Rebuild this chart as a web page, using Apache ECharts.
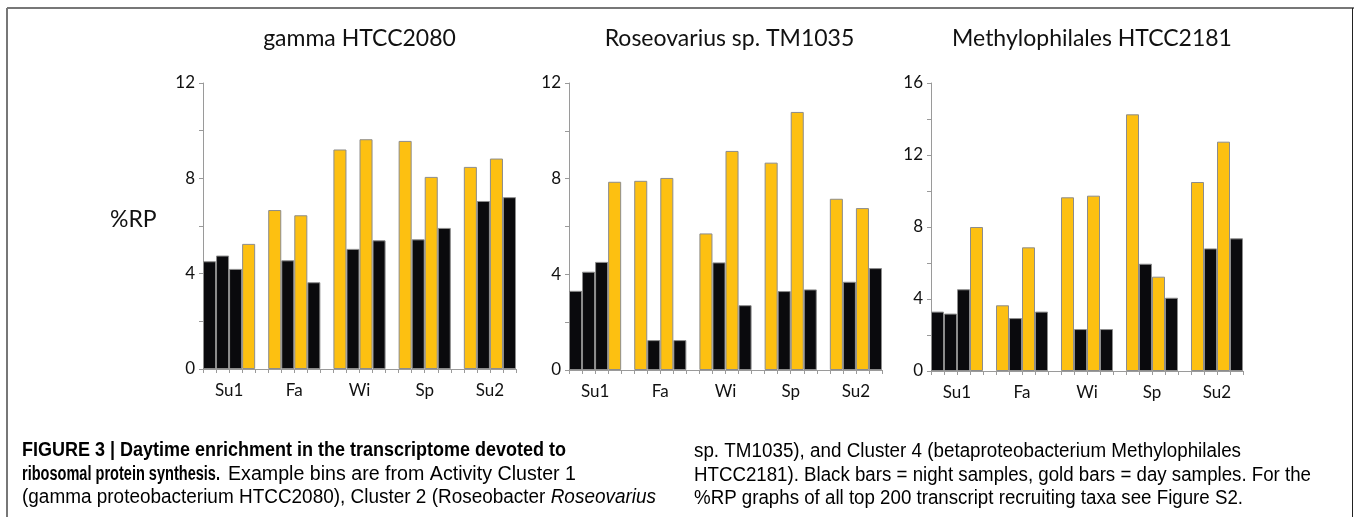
<!DOCTYPE html>
<html>
<head>
<meta charset="utf-8">
<script src="https://cdn.jsdelivr.net/npm/echarts@6/dist/echarts.min.js"></script>
<style>
html,body{margin:0;padding:0;background:#fff;}
#chart{width:1354px;height:517px;}
</style>
</head>
<body>
<div id="chart"></div>
<script>
// ---- data ----
const categories = ['Su1', 'Fa', 'Wi', 'Sp', 'Su2'];
// sample type per bar (N = night / black, D = day / gold), 4 bars per season
const sampleType = ['N','N','N','D', 'D','N','D','N', 'D','N','D','N', 'D','N','D','N', 'D','N','D','N'];
const panelTitles = ['gamma HTCC2080', 'Roseovarius sp. TM1035', 'Methylophilales HTCC2181'];
const gammaValues   = [4.52, 4.76, 4.20, 5.25,  6.67, 4.56, 6.45, 3.64,  9.21, 5.04, 9.64, 5.40,  9.57, 5.44, 8.06, 5.92,  8.48, 7.05, 8.83, 7.21];
const roseoValues   = [3.31, 4.11, 4.52, 7.87,  7.91, 1.25, 8.03, 1.25,  5.71, 4.50, 9.16, 2.71,  8.67, 3.30, 10.79, 3.37, 7.16, 3.69, 6.77, 4.26];
const methyloValues = [3.30, 3.19, 4.54, 8.00,  3.65, 2.94, 6.87, 3.30,  9.65, 2.33, 9.74, 2.33,  14.26, 5.96, 5.24, 4.07, 10.50, 6.81, 12.74, 7.37];
const yMaxes = [12, 12, 16];
const yTickStep = 2;
const yLabelStep = 4;
const yAxisName = '%RP';
// caption text runs: [style, text]
const captionText = [
  [['b', 'FIGURE 3 | Daytime enrichment in the transcriptome devoted to']],
  [['b', 'ribosomal protein synthesis.']],
  [['n', 'Example bins are from Activity Cluster 1']],
  [['n', '(gamma proteobacterium HTCC2080), Cluster 2 (Roseobacter '], ['i', 'Roseovarius']],
  [['n', 'sp. TM1035), and Cluster 4 (betaproteobacterium Methylophilales']],
  [['n', 'HTCC2181). Black bars = night samples, gold bars = day samples. For the']],
  [['n', '%RP graphs of all top 200 transcript recruiting taxa see Figure S2.']]
];
// caption layout: [x start, x end, y centre] per entry above
const captionBox = [
  [22, 566, 450], [22, 220, 474], [228, 576, 474], [22, 656, 497.5],
  [694, 1241, 451], [694, 1311, 475], [694, 1243, 498.5]
];

// ---- build ----
const panelValues = [gammaValues, roseoValues, methyloValues];
const GOLD = '#FDC011', BLACK = '#0a0a0d', EDGE = '#8c8c8c', AXIS = '#9a9a9a';
const FONT = 'Lato';
const grids = [
  {left: 203, top: 83, width: 313, height: 286},
  {left: 569, top: 83, width: 313, height: 287},
  {left: 931, top: 83, width: 312, height: 288}
];
const titleShift = [-5, -1, 0];

function slots(values, wanted) {
  const out = [];
  for (let g = 0; g < categories.length; g++) {
    for (let k = 0; k < 4; k++) {
      const i = g * 4 + k;
      out.push(sampleType[i] === wanted ? values[i] : null);
    }
    if (g < categories.length - 1) out.push(null);
  }
  return out;
}
const nSlots = categories.length * 5 - 1;
const slotNames = Array.from({length: nSlots}, (_, i) => String(i));
const labelPos = categories.map((_, g) => g * 5 + 2);

const option = {
  animation: false,
  backgroundColor: '#fff',
  title: panelTitles.map((t, i) => ({
    text: t,
    left: grids[i].left + grids[i].width / 2 + titleShift[i],
    top: 22,
    textAlign: 'center',
    textStyle: {fontFamily: FONT, fontSize: 23, fontWeight: 'normal', color: '#111'}
  })),
  grid: grids.map(g => Object.assign({containLabel: false, outerBoundsMode: 'none'}, g)),
  xAxis: [],
  yAxis: [],
  series: [],
  graphic: []
};

panelValues.forEach((vals, i) => {
  option.xAxis.push({
    type: 'category', gridIndex: i, data: slotNames, boundaryGap: true,
    axisLine: {show: true, lineStyle: {color: AXIS, width: 1}},
    axisTick: {show: true, interval: 0, length: 4, lineStyle: {color: AXIS}},
    axisLabel: {show: false},
    splitLine: {show: false}
  });
  option.xAxis.push({
    type: 'value', gridIndex: i, min: 0, max: nSlots, position: 'bottom',
    axisLine: {show: false}, axisTick: {show: false}, splitLine: {show: false},
    axisLabel: {
      show: true, customValues: labelPos, margin: 13,
      fontFamily: FONT, fontSize: 17, color: '#111',
      formatter: v => categories[labelPos.indexOf(v)] || ''
    }
  });
  option.yAxis.push({
    type: 'value', gridIndex: i, min: 0, max: yMaxes[i], interval: yTickStep,
    axisLine: {show: true, lineStyle: {color: AXIS, width: 1}},
    axisTick: {show: true, length: 4, lineStyle: {color: AXIS}},
    splitLine: {show: false},
    axisLabel: {
      margin: 8, fontFamily: FONT, fontSize: 17, color: '#111',
      formatter: v => (v % yLabelStep === 0 ? String(v) : '')
    }
  });
  const common = {
    type: 'bar', xAxisIndex: i * 2, yAxisIndex: i,
    barCategoryGap: 0, barGap: '-100%'
  };
  option.series.push(Object.assign({}, common, {
    name: 'night', data: slots(vals, 'N'),
    itemStyle: {color: BLACK, borderColor: EDGE, borderWidth: 1}
  }));
  option.series.push(Object.assign({}, common, {
    name: 'day', data: slots(vals, 'D'),
    itemStyle: {color: GOLD, borderColor: EDGE, borderWidth: 1}
  }));
});

// frame
option.graphic.push(
  {type: 'line', shape: {x1: 7, y1: 8, x2: 1354, y2: 8}, style: {stroke: '#777', lineWidth: 2}},
  {type: 'line', shape: {x1: 7, y1: 8, x2: 7, y2: 517}, style: {stroke: '#777', lineWidth: 2}},
  {type: 'line', shape: {x1: 1352.5, y1: 8, x2: 1352.5, y2: 517}, style: {stroke: '#222', lineWidth: 1}}
);
// y axis name
option.graphic.push({
  type: 'text', x: 110, y: 220,
  style: {text: yAxisName, fontFamily: FONT, fontSize: 23, fill: '#111', verticalAlign: 'middle'}
});
// caption
const CAP_FONT = '"Liberation Sans"';
const rich = {
  b: {fontFamily: 'Liberation Sans', fontWeight: 'bold', fontSize: 20, color: '#231f20'},
  n: {fontFamily: 'Liberation Sans', fontSize: 20, color: '#333'},
  i: {fontFamily: 'Liberation Sans', fontStyle: 'italic', fontSize: 20, color: '#333'}
};
const cssFont = {b: 'bold 20px ' + CAP_FONT, n: '20px ' + CAP_FONT, i: 'italic 20px ' + CAP_FONT};
const ctx = document.createElement('canvas').getContext('2d');
captionText.forEach((runs, k) => {
  let w = 0;
  runs.forEach(([s, t]) => { ctx.font = cssFont[s]; w += ctx.measureText(t).width; });
  const [x0, x1, y] = captionBox[k];
  option.graphic.push({
    type: 'text', x: x0, y: y, scaleX: (x1 - x0) / w,
    style: {
      text: runs.map(([s, t]) => '{' + s + '|' + t + '}').join(''),
      rich: rich, verticalAlign: 'middle'
    }
  });
});

const chart = echarts.init(document.getElementById('chart'), null, {renderer: 'canvas'});
chart.setOption(option);
</script>
</body>
</html>
